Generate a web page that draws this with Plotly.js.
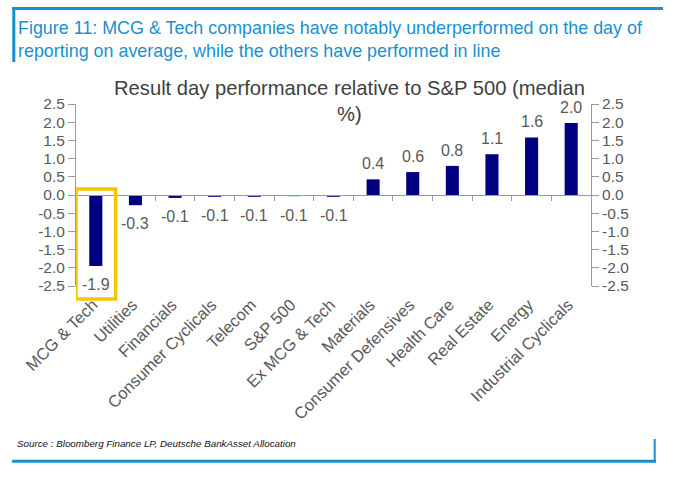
<!DOCTYPE html>
<html>
<head>
<meta charset="utf-8">
<script src="https://cdn.plot.ly/plotly-3.0.1.min.js"></script>
<style>
  html, body { margin: 0; padding: 0; background: #ffffff; }
  #chart { width: 683px; height: 484px; }
</style>
</head>
<body>
<div id="chart"></div>
<script>
// ---- data ----
var categories = ["MCG & Tech", "Utilities", "Financials", "Consumer Cyclicals", "Telecom", "S&P 500",
                  "Ex MCG & Tech", "Materials", "Consumer Defensives", "Health Care", "Real Estate",
                  "Energy", "Industrial Cyclicals"];
var values = [-1.95, -0.28, -0.08, -0.05, -0.05, -0.05, -0.05, 0.43, 0.63, 0.80, 1.12, 1.58, 1.98];
var valueLabels = ["-1.9", "-0.3", "-0.1", "-0.1", "-0.1", "-0.1", "-0.1", "0.4", "0.6", "0.8", "1.1", "1.6", "2.0"];
var yTickVals = [-2.5, -2.0, -1.5, -1.0, -0.5, 0.0, 0.5, 1.0, 1.5, 2.0, 2.5];
var yTickText = ["-2.5", "-2.0", "-1.5", "-1.0", "-0.5", "0.0", "0.5", "1.0", "1.5", "2.0", "2.5"];
var highlighted = "MCG & Tech";
var benchmark = "S&P 500";

// ---- styling ----
var W = 683, H = 484;
var M = {l: 76, r: 92, t: 104, b: 198};
var PW = W - M.l - M.r, PH = H - M.t - M.b;
function px(x) { return (x - M.l) / PW; }
function py(y) { return (H - M.b - y) / PH; }

var NAVY = "#000080", LIGHT = "#b4d9e2", BLUE = "#1a8fd0", GREY = "#595959", AX = "#9a9a9a";
var FONT = "Liberation Sans, Arial, sans-serif";

var colors = categories.map(function (c) { return c === benchmark ? LIGHT : NAVY; });

var bars = {
  type: "bar",
  x: categories,
  y: values,
  marker: {color: colors},
  width: 0.33,
  hoverinfo: "x+y",
  showlegend: false
};
// invisible helper traces so that the zero axis and the right axis are drawn
var helper = {
  type: "scatter", mode: "markers",
  x: categories, y: values.map(function () { return 0; }),
  xaxis: "x2", yaxis: "y",
  marker: {opacity: 0}, hoverinfo: "skip", showlegend: false
};
var helperR = {
  type: "scatter", mode: "markers",
  x: categories, y: values.map(function () { return 0; }),
  xaxis: "x", yaxis: "y2",
  marker: {opacity: 0}, hoverinfo: "skip", showlegend: false
};

var annotations = categories.map(function (c, i) {
  var v = values[i];
  return {
    x: c, y: v, xref: "x", yref: "y",
    text: valueLabels[i], showarrow: false,
    yanchor: v >= 0 ? "bottom" : "top",
    yshift: v >= 0 ? 5 : -8,
    font: {family: FONT, size: 16, color: GREY}
  };
});
annotations.push({
  xref: "paper", yref: "paper", x: px(16), y: py(16), xanchor: "left", yanchor: "top",
  align: "left", showarrow: false,
  text: "Figure 11: MCG & Tech companies have notably underperformed on the day of<br>reporting on average, while the others have performed in line",
  font: {family: FONT, size: 17.9, color: BLUE}
});
annotations.push({
  xref: "paper", yref: "paper", x: px(349), y: py(75), xanchor: "center", yanchor: "top",
  align: "center", showarrow: false,
  text: "Result day performance relative to S&P 500 (median<br>%)",
  font: {family: FONT, size: 20.2, color: "#404040"}
});
annotations.push({
  xref: "paper", yref: "paper", x: px(15), y: py(443), xanchor: "left", yanchor: "middle",
  align: "left", showarrow: false,
  text: "<i>Source : Bloomberg Finance LP, Deutsche BankAsset Allocation</i>",
  font: {family: FONT, size: 9.8, color: "#111111"}
});

var iHi = categories.indexOf(highlighted);
var shapes = [
  // highlight box around the first category
  {type: "rect", xref: "x", yref: "paper", x0: iHi - 0.5, x1: iHi + 0.5, y0: py(299), y1: py(189),
   line: {color: "#f7c600", width: 3.5}, fillcolor: "rgba(0,0,0,0)"},
  // frame lines
  {type: "line", xref: "paper", yref: "paper", x0: px(12), x1: px(663), y0: py(8.5), y1: py(8.5),
   line: {color: BLUE, width: 3}},
  {type: "line", xref: "paper", yref: "paper", x0: px(13.8), x1: px(13.8), y0: py(8), y1: py(62),
   line: {color: BLUE, width: 3}},
  {type: "line", xref: "paper", yref: "paper", x0: px(12), x1: px(656), y0: py(461.3), y1: py(461.3),
   line: {color: BLUE, width: 3}},
  {type: "line", xref: "paper", yref: "paper", x0: px(654.7), x1: px(654.7), y0: py(439), y1: py(462),
   line: {color: BLUE, width: 2}}
];

var layout = {
  width: W, height: H,
  margin: M,
  paper_bgcolor: "#ffffff", plot_bgcolor: "#ffffff",
  showlegend: false,
  xaxis: {
    type: "category", categoryorder: "array", categoryarray: categories,
    range: [-0.5, categories.length - 0.5],
    showline: false, showgrid: false, zeroline: false, ticks: "",
    tickangle: -45, ticklabelstandoff: 5, ticklabelshift: -3,
    tickfont: {family: FONT, size: 16.5, color: GREY},
    fixedrange: true
  },
  xaxis2: {
    type: "category", categoryorder: "array", categoryarray: categories,
    overlaying: "x", anchor: "free", position: 0.5,
    range: [-0.5, categories.length - 0.5],
    showline: true, linecolor: AX, linewidth: 1,
    ticks: "outside", tickson: "boundaries", ticklen: 5, tickcolor: AX,
    showticklabels: false, showgrid: false, zeroline: false, fixedrange: true
  },
  yaxis: {
    range: [-2.5, 2.5],
    tickvals: yTickVals, ticktext: yTickText,
    showline: true, linecolor: AX, linewidth: 1,
    ticks: "outside", ticklen: 7, tickcolor: AX,
    showgrid: false, zeroline: false,
    tickfont: {family: FONT, size: 15.5, color: GREY},
    fixedrange: true
  },
  yaxis2: {
    range: [-2.5, 2.5], overlaying: "y", side: "right", anchor: "x",
    tickvals: yTickVals, ticktext: yTickText,
    showline: true, linecolor: AX, linewidth: 1,
    ticks: "outside", ticklen: 7, tickcolor: AX,
    showgrid: false, zeroline: false,
    tickfont: {family: FONT, size: 15.5, color: GREY},
    fixedrange: true
  },
  annotations: annotations,
  shapes: shapes
};

Plotly.newPlot("chart", [bars, helper, helperR], layout, {displayModeBar: false, staticPlot: true});
</script>
</body>
</html>
